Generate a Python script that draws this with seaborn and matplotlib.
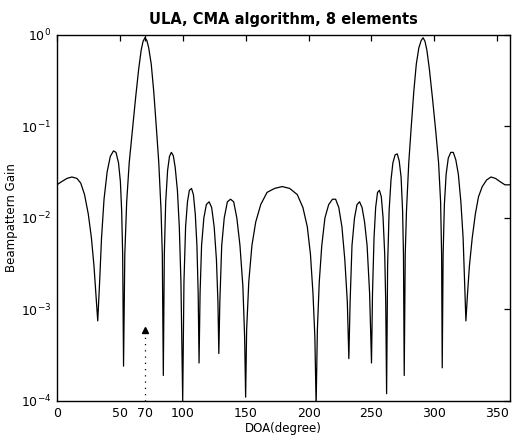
import matplotlib
matplotlib.use("Agg")
import matplotlib.pyplot as plt
import seaborn as sns
import pandas as pd
from matplotlib.ticker import LogLocator, LogFormatterSciNotation, NullLocator

# ---- data ----
doa = [0, 4, 8, 12, 16, 19, 22, 25, 27.5, 29.5, 31, 32.5,
       34, 35.5, 37.5, 40, 42.5, 45, 47, 49, 50.5, 51.5, 52.3, 53,
       54, 55.5, 57.5, 60, 62.5, 65, 67, 68.5, 70, 71.5, 73, 75, 77, 79, 81, 82.8, 83.8, 84.6,
       85.4, 86.5, 88, 89.5, 91, 92.5, 94, 95.8, 97.3, 98.6, 100,
       101, 102.3, 103.8, 105.3, 107, 108.5, 110, 111.3, 112.3, 113,
       113.8, 115, 116.8, 118.8, 121, 123, 125, 126.8, 128, 128.7,
       129.5, 131, 133, 135.5, 138, 140.5, 143, 145.5, 147.8, 149.2, 150,
       150.8, 152.5, 155, 158, 162, 167, 173, 179, 185, 191, 195.5, 199, 201.5, 203.5, 205, 206,
       207, 208.5, 210.5, 213, 216, 219, 221.5, 224, 226.5, 228.8, 230.8, 232,
       233, 234.5, 236.5, 238.5, 240.5, 242.5, 244.5, 246.5, 248.5, 250,
       250.8, 252, 253.3, 254.8, 256.3, 257.8, 259.2, 260.5, 261.3, 262,
       262.8, 264, 265.5, 267, 268.8, 270.5, 272, 273.5, 274.7, 275.4, 276,
       276.8, 277.8, 279.6, 281.6, 283.6, 285.6, 287.6, 289.5, 291, 292.5, 294, 296, 298.5,
       301, 303.3, 304.9, 305.7, 306.2,
       306.9, 307.9, 309.3, 311, 313, 315, 317, 319, 321, 322.8, 324, 325,
       326.3, 327.8, 330, 332.5, 335, 338, 341.5, 345, 348.5, 352, 356, 360]
gain = [0.023, 0.025, 0.027, 0.028, 0.027, 0.024, 0.018, 0.011, 0.006, 0.003, 0.0015, 7.5e-4,
        0.002, 0.006, 0.016, 0.032, 0.047, 0.054, 0.052, 0.04, 0.025, 0.012, 0.004, 2.4e-4,
        0.004, 0.015, 0.04, 0.09, 0.2, 0.42, 0.68, 0.85, 0.93, 0.87, 0.72, 0.48, 0.24, 0.1,
        0.04, 0.012, 0.004, 1.9e-4,
        0.004, 0.015, 0.033, 0.047, 0.052, 0.048, 0.036, 0.02, 0.008, 0.002, 1.0e-4,
        0.002, 0.008, 0.015, 0.02, 0.021, 0.018, 0.011, 0.005, 0.0015, 2.6e-4,
        0.0015, 0.005, 0.01, 0.014, 0.015, 0.013, 0.008, 0.0035, 0.0012, 3.3e-4,
        0.0012, 0.005, 0.01, 0.015, 0.016, 0.015, 0.01, 0.005, 0.0018, 5e-4, 1.1e-4,
        6e-4, 0.002, 0.005, 0.009, 0.014, 0.019, 0.021, 0.022, 0.021, 0.018, 0.013, 0.008,
        0.004, 0.0015, 5e-4, 9e-5,
        6e-4, 0.002, 0.005, 0.01, 0.014, 0.016, 0.016, 0.013, 0.008, 0.0035, 0.0012, 2.9e-4,
        0.0012, 0.005, 0.01, 0.014, 0.015, 0.013, 0.009, 0.005, 0.0015, 2.6e-4,
        0.0015, 0.006, 0.013, 0.019, 0.02, 0.017, 0.01, 0.004, 0.0012, 1.2e-4,
        0.003, 0.012, 0.026, 0.04, 0.049, 0.05, 0.042, 0.028, 0.012, 0.004, 1.9e-4,
        0.004, 0.012, 0.04, 0.1, 0.24, 0.48, 0.72, 0.87, 0.93, 0.85, 0.68, 0.42, 0.2,
        0.09, 0.04, 0.015, 0.004, 2.3e-4,
        0.004, 0.014, 0.03, 0.045, 0.052, 0.052, 0.043, 0.03, 0.015, 0.006, 0.002, 7.5e-4,
        0.0015, 0.003, 0.006, 0.011, 0.017, 0.022, 0.026, 0.028, 0.027, 0.025, 0.023, 0.023]

# desired-signal marker
mark_doa = [70]
mark_gain = [6e-4]

xticks = [0, 50, 70, 100, 150, 200, 250, 300, 350]

df = pd.DataFrame({"DOA": doa, "Gain": gain})

sns.set_theme(style="white")
plt.rcParams["font.family"] = ["DejaVu Sans"]
plt.rcParams["text.color"] = "black"
plt.rcParams["axes.labelcolor"] = "black"

fig = plt.figure(figsize=(5.12, 4.47), dpi=100)
ax = fig.add_axes([0.111, 0.103, 0.885, 0.819])

sns.lineplot(data=df, x="DOA", y="Gain", estimator=None, sort=False,
             color="black", linewidth=0.9, ax=ax)
ax.vlines(mark_doa, 1e-4, mark_gain, colors="black", linestyles=(0, (1, 4)), linewidth=0.9)
ax.plot(mark_doa, mark_gain, marker="^", color="black", markersize=5, linestyle="none")

ax.set_yscale("log")
ax.set_ylim(1e-4, 1e0)
ax.set_xlim(0, 360)
ax.set_xticks(xticks)
ax.set_xticklabels([str(t) for t in xticks])
ax.yaxis.set_major_locator(LogLocator(base=10, numticks=10))
ax.yaxis.set_major_formatter(LogFormatterSciNotation())
ax.yaxis.set_minor_locator(NullLocator())

for s in ax.spines.values():
    s.set_visible(True)
    s.set_color("black")
    s.set_linewidth(1.0)

ax.tick_params(axis="both", which="major", direction="in", length=4, width=0.9,
               top=True, right=True, labelsize=9, colors="black", pad=4)

ax.set_title("ULA, CMA algorithm, 8 elements", fontsize=10.5, fontweight="bold",
             pad=8, color="black")
ax.set_xlabel("DOA(degree)", fontsize=8.5, labelpad=2, color="black")
ax.set_ylabel("Beampattern Gain", fontsize=8.5, labelpad=2, color="black")

fig.savefig("out.png", dpi=100, facecolor="white")
